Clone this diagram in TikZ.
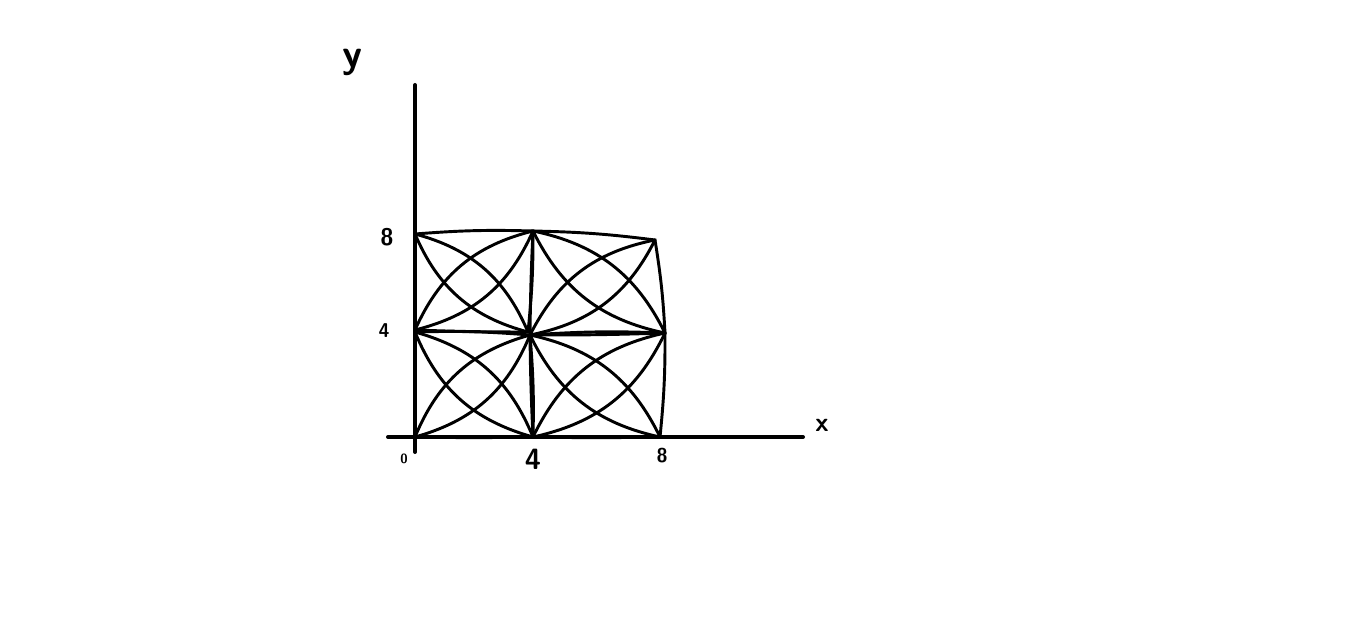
\documentclass[tikz,border=0pt]{standalone}
\begin{document}
\begin{tikzpicture}[x=0.75pt,y=-0.75pt,
  axis/.style={line width=3pt,line cap=round},
  curve/.style={line width=2.2pt,line cap=round},
  lbl/.style={font=\sffamily\bfseries\fontsize{15}{15}\selectfont,inner sep=0pt}]
\useasboundingbox (0,0) rectangle (1360,623);
% axes
\coordinate (xs) at (388,437);
\coordinate (xe) at (803,437);
\coordinate (ys) at (415,452);
\coordinate (ye) at (415,85);
\draw[axis] (xs) -- (xe);
\draw[axis] (ys) -- (ye);
% labels
\node[lbl,font=\sffamily\bfseries\fontsize{30}{30}\selectfont] (ylab) at (352,62) {y};
\node[lbl,font=\sffamily\bfseries\fontsize{20}{20}\selectfont] (xlab) at (822,425) {x};
\node[lbl,font=\sffamily\bfseries\fontsize{10}{10}\selectfont] (l0) at (404,459) {0};
\node[lbl,font=\sffamily\bfseries\fontsize{22}{22}\selectfont] (lx4) at (533,459) {4};
\node[lbl] (lx8) at (662,456) {8};
\node[lbl,font=\sffamily\bfseries\fontsize{18}{18}\selectfont] (ly8) at (387,237) {8};
\node[lbl] (ly4) at (384,331) {4};
% corners of squares
% top-left square
\coordinate (a1) at (415,330); \coordinate (a2) at (528,332);
\coordinate (a3) at (533,231); \coordinate (a4) at (415,234);
% top-right square
\coordinate (b1) at (530,335); \coordinate (b2) at (665,333);
\coordinate (b3) at (655,240); \coordinate (b4) at (533,231);
% bottom-left square
\coordinate (c1) at (415,437); \coordinate (c2) at (533,437);
\coordinate (c3) at (530,335); \coordinate (c4) at (415,332);
% bottom-right square
\coordinate (d1) at (533,437); \coordinate (d2) at (660,437);
\coordinate (d3) at (665,333); \coordinate (d4) at (530,335);
% squares: edges and lens arcs
\foreach \s in {a,b,c,d}{
  \draw[curve] (\s1) to[bend right=1] (\s2) to[bend right=3] (\s3)
               to[bend right=3] (\s4) to[bend right=1] (\s1);
  \draw[curve] (\s1) to[bend left=26] (\s3);
  \draw[curve] (\s1) to[bend right=26] (\s3);
  \draw[curve] (\s4) to[bend left=26] (\s2);
  \draw[curve] (\s4) to[bend right=26] (\s2);
}
\end{tikzpicture}
\end{document}
